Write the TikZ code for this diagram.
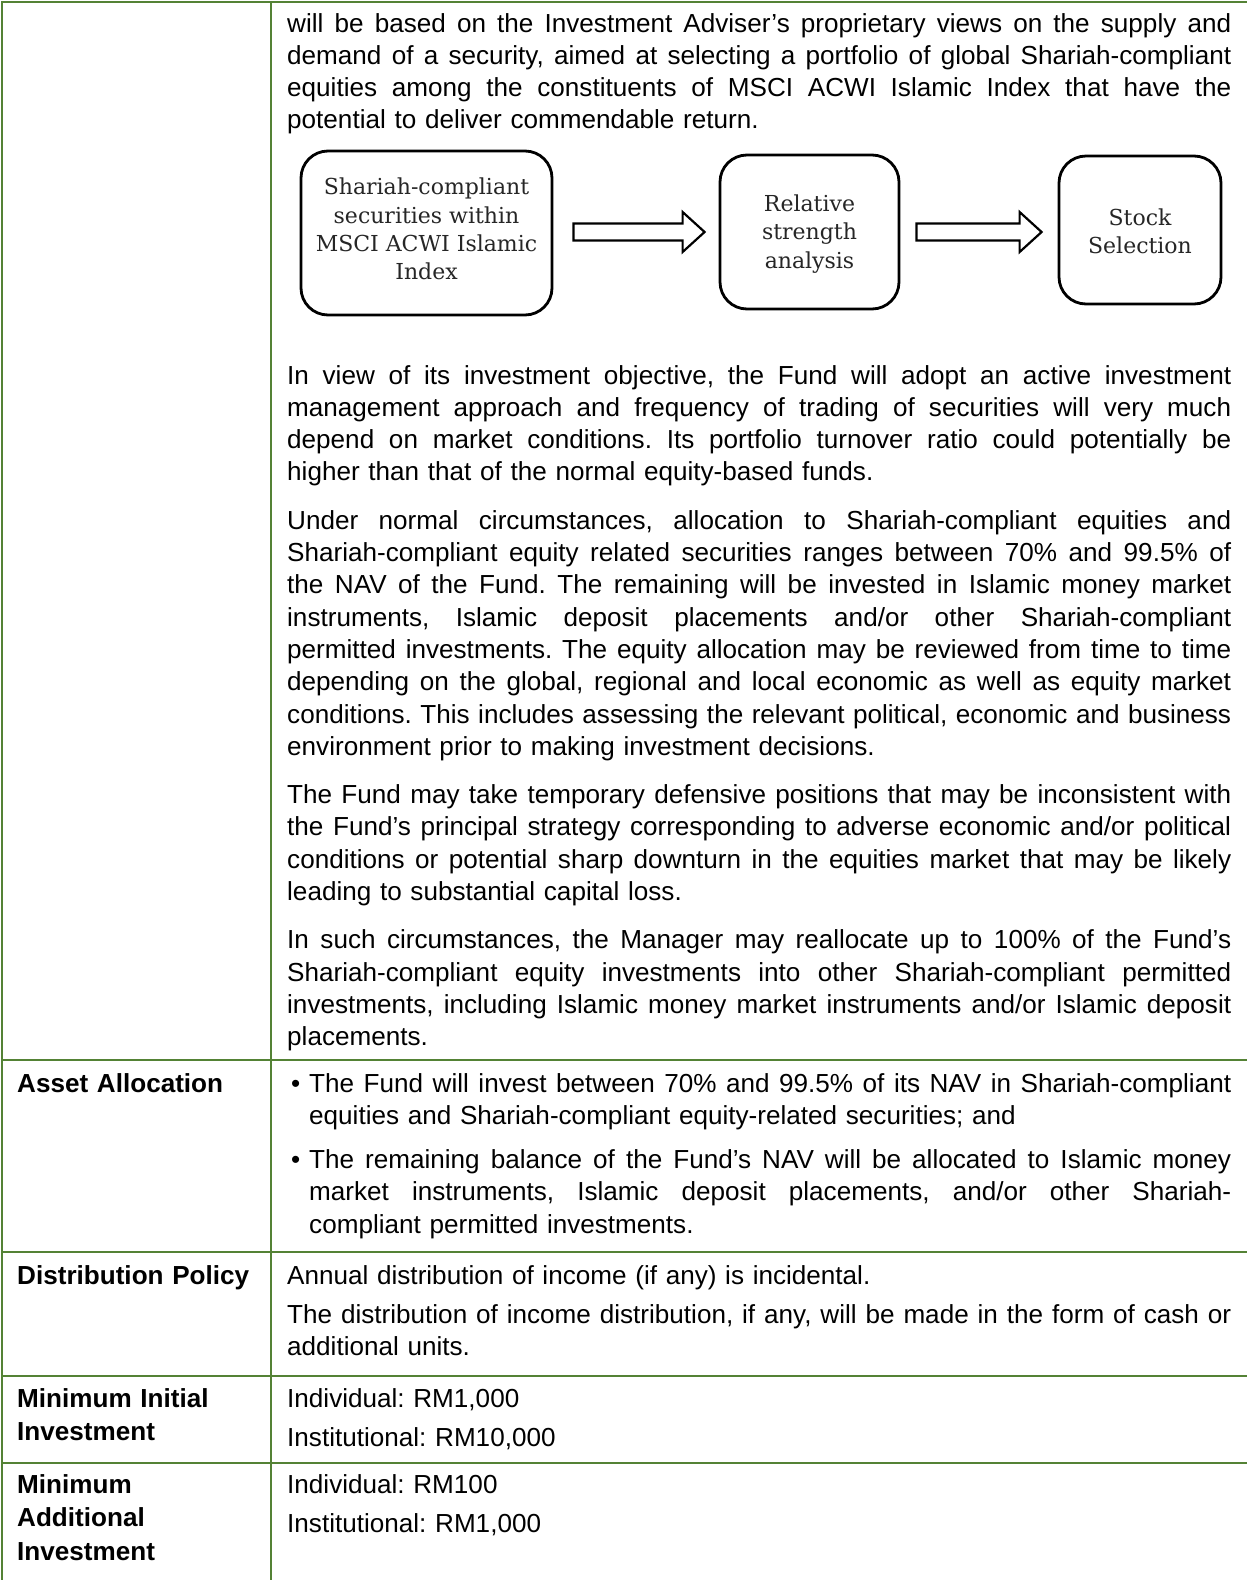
\documentclass[tikz,border=0pt]{standalone}
\usepackage{fontspec}
\setmainfont{Liberation Sans}
\newfontfamily\flowfont{DejaVu Serif}
\usetikzlibrary{calc}
\definecolor{tblgreen}{RGB}{84,130,53}
\definecolor{boxtext}{RGB}{38,38,38}
\newlength{\colw}\setlength{\colw}{944pt}
\newlength{\bulw}\setlength{\bulw}{922pt}
\newcommand{\bodyfont}{\fontsize{26.1pt}{32.3pt}\selectfont\frenchspacing}
\newcommand{\stretchspaces}{\spaceskip=\fontdimen2\font plus 1fil\relax}
\newcommand{\jline}[1]{\noindent{\stretchspaces\makebox[\colw][s]{#1}}\par}
\newcommand{\lline}[1]{\noindent\makebox[\colw][l]{#1}\par}
\newcommand{\bfirst}[1]{\noindent\makebox[22pt][l]{\hspace{4pt}\textbullet}{\stretchspaces\makebox[\bulw][s]{#1}}\par}
\newcommand{\bjline}[1]{\noindent\hspace*{22pt}{\stretchspaces\makebox[\bulw][s]{#1}}\par}
\newcommand{\blline}[1]{\noindent\hspace*{22pt}\makebox[\bulw][l]{#1}\par}
\newcommand{\pgap}{\vspace{16pt}}
\tikzset{
  tbl/.style={draw=tblgreen, line width=2pt},
  txt/.style={inner sep=0pt, text width=944pt, font=\bodyfont, anchor=base west},
  lbl/.style={inner sep=0pt, text width=245pt, align=left,
    font=\fontsize{26.1pt}{33.5pt}\selectfont\bfseries, anchor=base west},
  flowbox/.style={draw, line width=2.8pt, rounded corners=27pt, inner sep=0pt},
  flowtext/.style={align=center, inner sep=0pt, text=boxtext,
    font=\flowfont\fontsize{22pt}{28.4pt}\selectfont},
  blkarr/.style={draw, line width=2.2pt, fill=white, line join=miter}
}
\newcommand{\blockarrow}[2]{%
  \draw[blkarr] ($(#1)+(0,-8.5)$) -- ($(#2)+(-22,-8.5)$) -- ($(#2)+(-22,-20)$) -- (#2)
    -- ($(#2)+(-22,20)$) -- ($(#2)+(-22,8.5)$) -- ($(#1)+(0,8.5)$) -- cycle;}
\begin{document}
\begin{tikzpicture}[x=1pt,y=-1pt]
\fill[white] (0,0) rectangle (1247,1580);
\useasboundingbox (0,0) rectangle (1247,1580);

% table rules
\draw[tbl] (2,2) -- (1247,2);
\draw[tbl] (2,1) -- (2,1580);
\draw[tbl] (271,2) -- (271,1580);
\draw[tbl] (2,1060) -- (1247,1060);
\draw[tbl] (2,1252) -- (1247,1252);
\draw[tbl] (2,1376) -- (1247,1376);
\draw[tbl] (2,1463) -- (1247,1463);

% paragraph 1
\node[txt] (p1) at (287,32) {%
\jline{will be based on the Investment Adviser’s proprietary views on the supply and}
\jline{demand of a security, aimed at selecting a portfolio of global Shariah-compliant}
\jline{equities among the constituents of MSCI ACWI Islamic Index that have the}
\lline{potential to deliver commendable return.}};

% flowchart
\node[flowbox, minimum width=251pt, minimum height=164pt] (b1) at (426.5,233) {};
\node[flowbox, minimum width=179pt, minimum height=154pt] (b2) at (809.5,232) {};
\node[flowbox, minimum width=162pt, minimum height=148pt] (b3) at (1140,230) {};
\node[flowtext] (b1t) at ($(b1.center)+(0,-4)$)
  {Shariah-compliant\\securities within\\MSCI ACWI Islamic\\Index};
\node[flowtext] (b2t) at ($(b2.center)+(0,2)$) {Relative\\strength\\analysis};
\node[flowtext] (b3t) at ($(b3.center)+(0,1.5)$) {Stock\\Selection};
\coordinate (a1t) at ($(b2.west)+(-14,0)$);
\coordinate (a1s) at ($(b1.east |- b2.west)+(20,0)$);
\coordinate (a2t) at ($(b3.west |- b2.east)+(-16,0)$);
\coordinate (a2s) at ($(b2.east)+(16,0)$);
\blockarrow{a1s}{a1t}
\blockarrow{a2s}{a2t}

% paragraphs 2-5
\node[txt] (p2) at (287,384) {%
\jline{In view of its investment objective, the Fund will adopt an active investment}
\jline{management approach and frequency of trading of securities will very much}
\jline{depend on market conditions. Its portfolio turnover ratio could potentially be}
\lline{higher than that of the normal equity-based funds.}
\pgap
\jline{Under normal circumstances, allocation to Shariah-compliant equities and}
\jline{Shariah-compliant equity related securities ranges between 70\% and 99.5\% of}
\jline{the NAV of the Fund. The remaining will be invested in Islamic money market}
\jline{instruments, Islamic deposit placements and/or other Shariah-compliant}
\jline{permitted investments. The equity allocation may be reviewed from time to time}
\jline{depending on the global, regional and local economic as well as equity market}
\jline{conditions. This includes assessing the relevant political, economic and business}
\lline{environment prior to making investment decisions.}
\pgap
\jline{The Fund may take temporary defensive positions that may be inconsistent with}
\jline{the Fund’s principal strategy corresponding to adverse economic and/or political}
\jline{conditions or potential sharp downturn in the equities market that may be likely}
\lline{leading to substantial capital loss.}
\pgap
\jline{In such circumstances, the Manager may reallocate up to 100\% of the Fund’s}
\jline{Shariah-compliant equity investments into other Shariah-compliant permitted}
\jline{investments, including Islamic money market instruments and/or Islamic deposit}
\lline{placements.}};

% Asset Allocation
\node[lbl] (l1) at (17,1092) {Asset Allocation};
\node[txt] (t1) at (287,1092) {%
\bfirst{The Fund will invest between 70\% and 99.5\% of its NAV in Shariah-compliant}
\blline{equities and Shariah-compliant equity-related securities; and}
\vspace{12pt}
\bfirst{The remaining balance of the Fund’s NAV will be allocated to Islamic money}
\bjline{market instruments, Islamic deposit placements, and/or other Shariah-}
\blline{compliant permitted investments.}};

% Distribution Policy
\node[lbl] (l2) at (17,1284) {Distribution Policy};
\node[txt] (t2) at (287,1284) {%
\lline{Annual distribution of income (if any) is incidental.}
\vspace{7pt}
\jline{The distribution of income distribution, if any, will be made in the form of cash or}
\lline{additional units.}};

% Minimum Initial Investment
\node[lbl] (l3) at (17,1407) {Minimum Initial\\Investment};
\node[txt] (t3) at (287,1407) {%
\lline{Individual: RM1,000}
\vspace{7pt}
\lline{Institutional: RM10,000}};

% Minimum Additional Investment
\node[lbl] (l4) at (17,1493) {Minimum\\Additional\\Investment};
\node[txt] (t4) at (287,1493) {%
\lline{Individual: RM100}
\vspace{7pt}
\lline{Institutional: RM1,000}};
\end{tikzpicture}
\end{document}
